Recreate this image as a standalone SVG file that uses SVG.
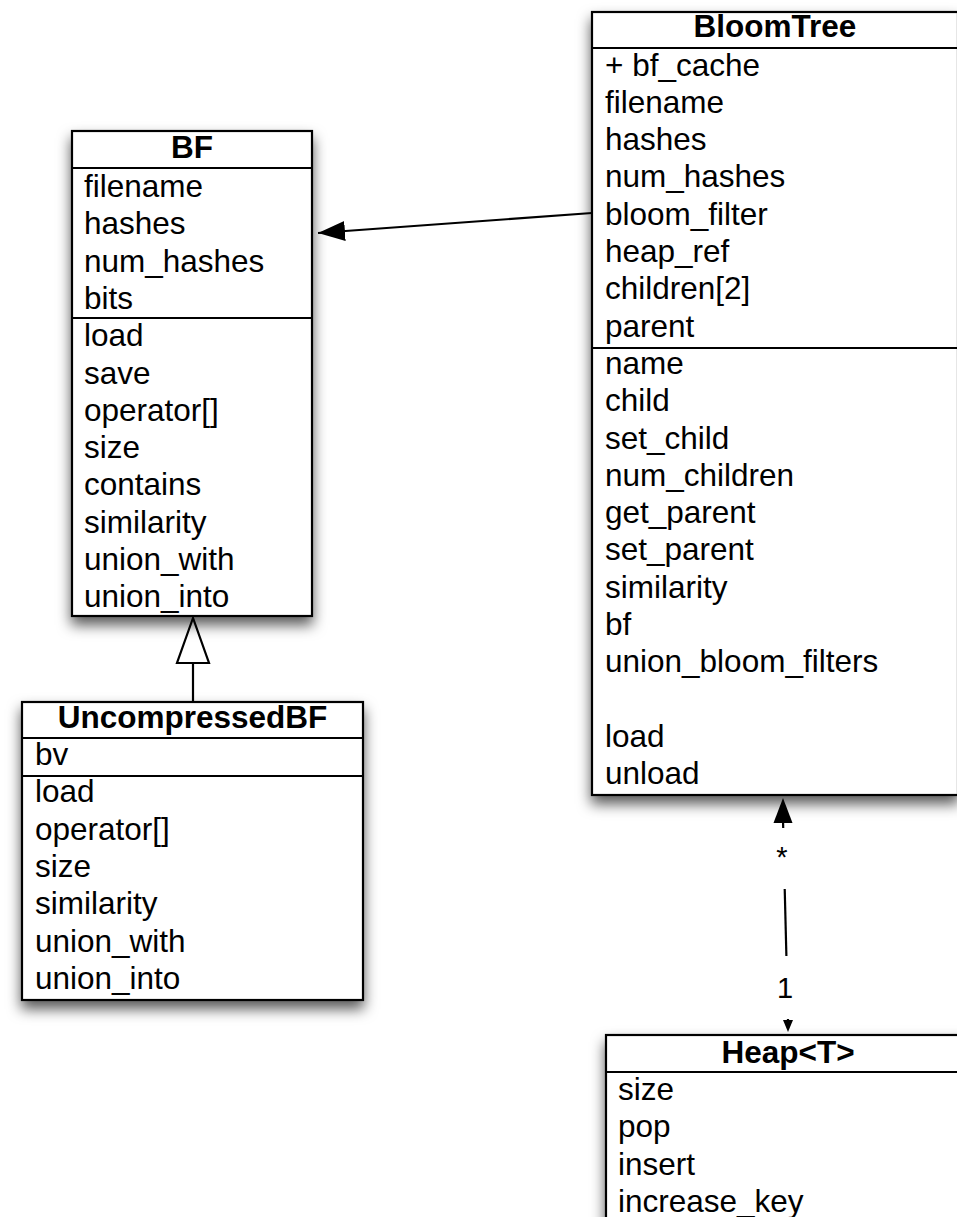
<svg xmlns="http://www.w3.org/2000/svg" width="957" height="1217" viewBox="0 0 957 1217">
<style>
.box{fill:#fff;stroke:#000;stroke-width:2.2;filter:url(#sh)}
.ln{stroke:#000;stroke-width:2.2;fill:none}
.t{font-family:"Liberation Sans",Arial,sans-serif;font-size:31.5px;fill:#000}
.h{font-family:"Liberation Sans",Arial,sans-serif;font-size:31.5px;font-weight:bold;fill:#000;text-anchor:middle}
.lbl{font-family:"Liberation Sans",Arial,sans-serif;font-size:29px;fill:#000;text-anchor:middle}
</style>
<defs>
<filter id="sh" x="-20%" y="-20%" width="140%" height="140%">
<feDropShadow dx="0" dy="8" stdDeviation="7" flood-color="#000" flood-opacity="0.65"/>
</filter>
<marker id="arr" markerUnits="userSpaceOnUse" markerWidth="30" markerHeight="22" refX="27" refY="10" orient="auto">
<path d="M0,0 L27,10 L0,20 Z" fill="#000"/>
</marker>
</defs>
<rect width="957" height="1217" fill="#fff"/>

<g id="connectors">
<line class="ln" x1="592" y1="213" x2="318" y2="233" marker-end="url(#arr)"/>
<path d="M193,618 L177,663 L209,663 Z" fill="#fff" stroke="#000" stroke-width="2.2"/>
<line class="ln" x1="193" y1="663" x2="193" y2="702"/>
<line class="ln" x1="783" y1="820" x2="788" y2="1020"/>
<rect x="765" y="828" width="36" height="61" fill="#fff"/>
<rect x="768" y="956" width="36" height="63" fill="#fff"/>
<path d="M783,798 L773.5,823 L792.5,823 Z" fill="#000"/>
<path d="M788,1032 L783,1020 L793,1020 Z" fill="#000"/>
<text class="lbl" x="782" y="867">*</text>
<text class="lbl" x="785" y="998">1</text>
</g>

<g id="BF">
<rect class="box" x="72" y="131" width="240" height="485"/>
<line class="ln" x1="72" y1="168" x2="312" y2="168"/>
<line class="ln" x1="72" y1="318" x2="312" y2="318"/>
<text class="h" x="192" y="158">BF</text>
<text class="t" x="84" y="197">filename</text>
<text class="t" x="84" y="234.3">hashes</text>
<text class="t" x="84" y="271.6">num_hashes</text>
<text class="t" x="84" y="308.9">bits</text>
<text class="t" x="84" y="346.2">load</text>
<text class="t" x="84" y="383.5">save</text>
<text class="t" x="84" y="420.8">operator[]</text>
<text class="t" x="84" y="458.1">size</text>
<text class="t" x="84" y="495.4">contains</text>
<text class="t" x="84" y="532.7">similarity</text>
<text class="t" x="84" y="570">union_with</text>
<text class="t" x="84" y="607.3">union_into</text>
</g>

<g id="UncompressedBF">
<rect class="box" x="22" y="702" width="341" height="298"/>
<line class="ln" x1="22" y1="738" x2="363" y2="738"/>
<line class="ln" x1="22" y1="776" x2="363" y2="776"/>
<text class="h" x="192.5" y="728">UncompressedBF</text>
<text class="t" x="35" y="765">bv</text>
<text class="t" x="35" y="802.3">load</text>
<text class="t" x="35" y="839.6">operator[]</text>
<text class="t" x="35" y="876.9">size</text>
<text class="t" x="35" y="914.2">similarity</text>
<text class="t" x="35" y="951.5">union_with</text>
<text class="t" x="35" y="988.8">union_into</text>
</g>

<g id="BloomTree">
<rect class="box" x="592" y="12" width="366" height="783"/>
<line class="ln" x1="592" y1="48" x2="958" y2="48"/>
<line class="ln" x1="592" y1="348" x2="958" y2="348"/>
<text class="h" x="775" y="37">BloomTree</text>
<text class="t" x="605" y="75.5">+ bf_cache</text>
<text class="t" x="605" y="112.8">filename</text>
<text class="t" x="605" y="150.1">hashes</text>
<text class="t" x="605" y="187.4">num_hashes</text>
<text class="t" x="605" y="224.7">bloom_filter</text>
<text class="t" x="605" y="262">heap_ref</text>
<text class="t" x="605" y="299.3">children[2]</text>
<text class="t" x="605" y="336.6">parent</text>
<text class="t" x="605" y="373.9">name</text>
<text class="t" x="605" y="411.2">child</text>
<text class="t" x="605" y="448.5">set_child</text>
<text class="t" x="605" y="485.8">num_children</text>
<text class="t" x="605" y="523.1">get_parent</text>
<text class="t" x="605" y="560.4">set_parent</text>
<text class="t" x="605" y="597.7">similarity</text>
<text class="t" x="605" y="635">bf</text>
<text class="t" x="605" y="672.3">union_bloom_filters</text>
<text class="t" x="605" y="746.9">load</text>
<text class="t" x="605" y="784.2">unload</text>
</g>

<g id="Heap">
<rect class="box" x="606" y="1035" width="364" height="200"/>
<line class="ln" x1="606" y1="1072" x2="970" y2="1072"/>
<text class="h" x="788" y="1063">Heap&lt;T&gt;</text>
<text class="t" x="618" y="1100">size</text>
<text class="t" x="618" y="1137.3">pop</text>
<text class="t" x="618" y="1174.6">insert</text>
<text class="t" x="618" y="1211.9">increase_key</text>
</g>
</svg>
